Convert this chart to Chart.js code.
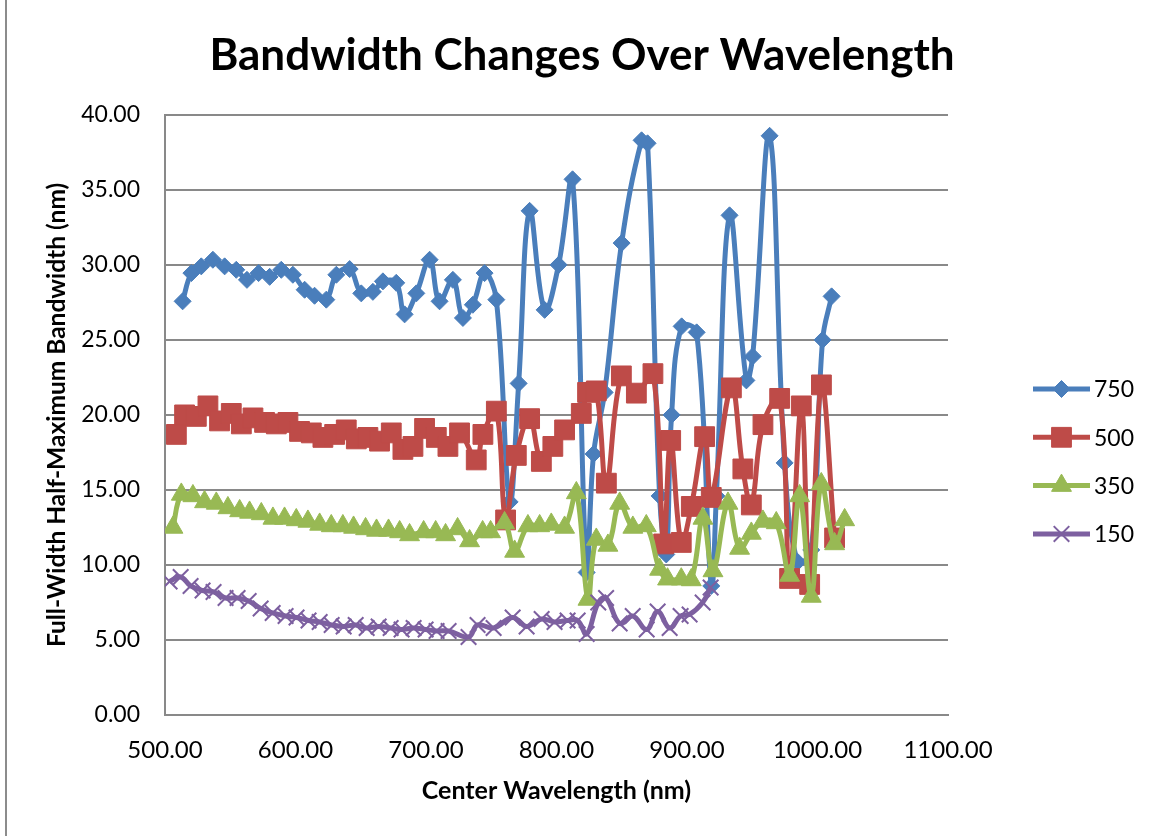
<!DOCTYPE html>
<html>
<head>
<meta charset="utf-8">
<title>Bandwidth Changes Over Wavelength</title>
<script src="https://cdn.jsdelivr.net/npm/chart.js@4/dist/chart.umd.min.js"></script>
<style>
  html, body { margin: 0; padding: 0; background: #fff; }
  #wrap { position: relative; width: 1153px; height: 836px; }
  #wrap::before { content: ''; position: absolute; left: 5px; top: 0; bottom: 0; border-left: 2px solid #8c8c8c; }
  canvas { display: block; }
</style>
</head>
<body>
<div id="wrap"><canvas id="bw" width="1153" height="836"></canvas></div>
<script>
'use strict'

// center wavelength (nm) and FWHM (nm) for each slit setting
const wl750 = [513.5, 520.2, 527.8, 536.7, 545.7, 554.6, 562.8, 571.7, 580.2, 589.1, 598.0, 607.0, 614.6, 623.6, 631.3,
  641.5, 650.4, 659.3, 667.0, 677.2, 683.6, 692.6, 702.8, 710.4, 720.6, 728.3, 735.9, 744.9, 753.9, 764.1,
  771.0, 779.4, 790.9, 801.6, 812.3, 823.1, 828.4, 836.9, 849.9, 865.2, 869.8, 879.0, 884.1, 888.2, 895.9,
  907.4, 918.6, 922.5, 932.6, 945.5, 950.3, 963.3, 974.8, 984.8, 995.2, 1003.9, 1010.8]
const fwhm750 = [27.57, 29.45, 29.9, 30.34, 29.9, 29.67, 29.0, 29.45, 29.2, 29.67, 29.34, 28.34, 27.94, 27.68, 29.34,
  29.72, 28.1, 28.2, 28.9, 28.8, 26.7, 28.1, 30.34, 27.57, 29.0, 26.46, 27.34, 29.45, 27.68, 14.2,
  22.1, 33.6, 27.0, 30.0, 35.7, 9.5, 17.4, 21.5, 31.45, 38.3, 38.1, 14.6, 10.7, 20.0, 25.9,
  25.5, 8.6, 14.6, 33.3, 22.3, 23.9, 38.6, 16.8, 10.2, 11.0, 25.0, 27.9]

const wl500 = [508.7, 515.0, 524.0, 532.9, 541.8, 550.8, 558.5, 567.4, 576.3, 585.3, 594.2, 603.1, 612.1, 621.0, 630.0,
  638.9, 646.6, 655.5, 664.4, 673.4, 682.3, 690.0, 698.9, 707.9, 716.8, 725.7, 738.5, 743.6, 753.9, 761.0,
  769.2, 779.4, 788.4, 797.2, 806.2, 819.0, 823.8, 830.5, 838.2, 849.7, 861.2, 873.9, 882.1, 887.5, 895.6,
  903.3, 913.5, 918.6, 934.0, 942.8, 949.3, 958.2, 971.0, 978.6, 987.6, 994.0, 1003.0, 1013.1]
const fwhm500 = [18.7, 20.0, 19.9, 20.6, 19.6, 20.1, 19.4, 19.8, 19.5, 19.4, 19.5, 18.9, 18.8, 18.5, 18.7,
  19.0, 18.4, 18.5, 18.25, 18.8, 17.7, 17.9, 19.1, 18.5, 17.9, 18.8, 17.0, 18.7, 20.25, 13.0,
  17.3, 19.75, 16.9, 17.9, 19.0, 20.1, 21.5, 21.6, 15.45, 22.6, 21.45, 22.75, 11.4, 18.3, 11.5,
  13.9, 18.55, 14.5, 21.8, 16.4, 14.0, 19.35, 21.1, 9.1, 20.6, 8.7, 22.0, 11.8]

const wl350 = [506.1, 512.5, 521.4, 530.3, 539.3, 548.2, 557.2, 564.8, 573.8, 582.7, 591.6, 600.6, 609.5, 618.5, 627.4,
  636.3, 644.5, 653.7, 662.1, 671.3, 679.8, 687.4, 698.2, 707.4, 715.0, 724.2, 733.4, 743.4, 749.5, 760.2,
  767.9, 778.1, 787.1, 796.0, 806.2, 815.2, 824.1, 830.5, 839.4, 848.4, 858.5, 868.8, 879.0, 885.1, 895.6,
  903.3, 912.2, 919.9, 931.4, 940.3, 949.3, 958.2, 968.4, 978.6, 986.3, 995.2, 1002.9, 1013.1, 1020.8]
const fwhm350 = [12.5, 14.7, 14.6, 14.2, 14.1, 13.8, 13.6, 13.5, 13.4, 13.1, 13.1, 13.0, 12.9, 12.7, 12.6,
  12.6, 12.5, 12.4, 12.3, 12.3, 12.2, 12.0, 12.2, 12.2, 12.0, 12.4, 11.6, 12.2, 12.2, 12.8,
  10.9, 12.6, 12.6, 12.7, 12.5, 14.8, 7.7, 11.7, 11.3, 14.1, 12.5, 12.6, 9.7, 9.05, 9.05,
  9.0, 13.1, 9.6, 14.1, 11.1, 12.1, 12.9, 12.8, 9.3, 14.6, 7.9, 15.4, 11.4, 13.0]

const wl150 = [503.5, 512.0, 519.6, 528.8, 537.2, 546.4, 555.6, 564.1, 573.3, 582.5, 592.4, 600.8, 610.0, 618.5, 627.7,
  636.9, 646.1, 654.5, 663.7, 672.9, 681.3, 690.5, 699.7, 708.1, 717.3, 732.6, 739.5, 751.8, 766.4, 777.1,
  788.6, 798.5, 808.5, 816.2, 823.1, 832.0, 838.0, 848.4, 858.4, 869.1, 877.5, 886.7, 895.1, 902.0, 912.0, 918.1]
const fwhm150 = [8.9, 9.2, 8.6, 8.3, 8.2, 7.8, 7.8, 7.6, 7.1, 6.8, 6.6, 6.5, 6.3, 6.2, 6.0,
  5.9, 6.0, 5.8, 5.9, 5.8, 5.7, 5.8, 5.7, 5.6, 5.6, 5.2, 6.0, 5.8, 6.5, 5.9,
  6.4, 6.2, 6.3, 6.3, 5.4, 7.5, 7.8, 6.1, 6.6, 5.7, 6.9, 5.8, 6.6, 6.7, 7.5, 8.5]

const seriesNames = ['750', '500', '350', '150']

const FONT = 'Lato, "Open Sans", sans-serif'
const GRID = '#898989'

const toXY = (xs, ys) => xs.map((x, i) => ({ x, y: ys[i] }))

function series(label, xs, ys, color, style, radius, order) {
  return {
    label,
    data: toXY(xs, ys),
    showLine: true,
    borderColor: color,
    backgroundColor: color,
    borderWidth: 5,
    tension: 0.4,
    pointStyle: style,
    pointRadius: radius,
    pointHoverRadius: radius,
    pointBackgroundColor: color,
    pointBorderColor: color,
    pointBorderWidth: style === 'crossRot' ? 2 : 1,
    order
  }
}

// Excel-style legend on the right: line sample with marker, then the name
const sideLegend = {
  id: 'sideLegend',
  afterDraw(chart) {
    const ctx = chart.ctx
    const x0 = 1033, x1 = 1090, top = 389, step = 48.3
    ctx.save()
    chart.data.datasets.forEach((ds, i) => {
      const y = top + i * step
      ctx.strokeStyle = ds.borderColor
      ctx.lineWidth = ds.borderWidth
      ctx.beginPath()
      ctx.moveTo(x0, y)
      ctx.lineTo(x1, y)
      ctx.stroke()
      ctx.fillStyle = ds.pointBackgroundColor
      ctx.lineWidth = ds.pointBorderWidth
      Chart.helpers.drawPoint(ctx, { pointStyle: ds.pointStyle, radius: ds.pointRadius, rotation: 0, borderWidth: ds.pointBorderWidth }, (x0 + x1) / 2, y)
      ctx.fillStyle = '#000'
      ctx.font = '23px ' + FONT
      ctx.textAlign = 'left'
      ctx.textBaseline = 'middle'
      ctx.fillText(ds.label, x1 + 4, y + 1)
    })
    ctx.restore()
  }
}

new Chart(document.getElementById('bw'), {
  type: 'scatter',
  data: {
    datasets: [
      series(seriesNames[0], wl750, fwhm750, '#4A7EBB', 'rectRot', 8.5, 3),
      series(seriesNames[1], wl500, fwhm500, '#BE4B48', 'rect', 14, 2),
      series(seriesNames[2], wl350, fwhm350, '#98B954', 'triangle', 11.5, 1),
      series(seriesNames[3], wl150, fwhm150, '#7D60A0', 'crossRot', 11, 0)
    ]
  },
  options: {
    responsive: false,
    animation: false,
    layout: { padding: { left: 11, right: 0, top: 0, bottom: 0 } },
    plugins: {
      legend: { display: false },
      tooltip: { enabled: false },
      title: {
        display: true,
        text: 'Bandwidth Changes Over Wavelength',
        color: '#000',
        font: { family: FONT, size: 44, weight: 'bold' },
        padding: { top: 29, bottom: 33 }
      }
    },
    scales: {
      x: {
        type: 'linear',
        min: 500,
        max: 1100,
        afterFit: s => { s.height = 121 },
        grid: { display: false, drawTicks: false },
        border: { display: true, color: GRID, width: 2 },
        ticks: {
          stepSize: 100,
          padding: 21,
          color: '#000',
          font: { family: FONT, size: 24 },
          callback: v => v.toFixed(2)
        },
        title: {
          display: true,
          text: 'Center Wavelength (nm)',
          color: '#000',
          font: { family: FONT, size: 25, weight: 'bold' },
          padding: { top: 0, bottom: 30 }
        }
      },
      y: {
        min: 0,
        max: 40,
        afterFit: s => { s.width = 154 },
        grid: { color: GRID, lineWidth: 2, drawTicks: false },
        border: { display: true, color: GRID, width: 2 },
        ticks: {
          stepSize: 5,
          padding: 25,
          color: '#000',
          font: { family: FONT, size: 23 },
          callback: v => v.toFixed(2)
        },
        title: {
          display: true,
          text: 'Full-Width Half-Maximum Bandwidth (nm)',
          color: '#000',
          font: { family: FONT, size: 24.5, weight: 'bold' },
          padding: { top: 31, bottom: 0 }
        }
      },
      // empty band on the right that holds the legend
      side: {
        type: 'linear',
        position: 'right',
        display: true,
        afterFit: s => { s.width = 205 },
        grid: { display: false, drawTicks: false },
        border: { display: false },
        ticks: { display: false }
      }
    }
  },
  plugins: [sideLegend]
})
</script>
</body>
</html>
